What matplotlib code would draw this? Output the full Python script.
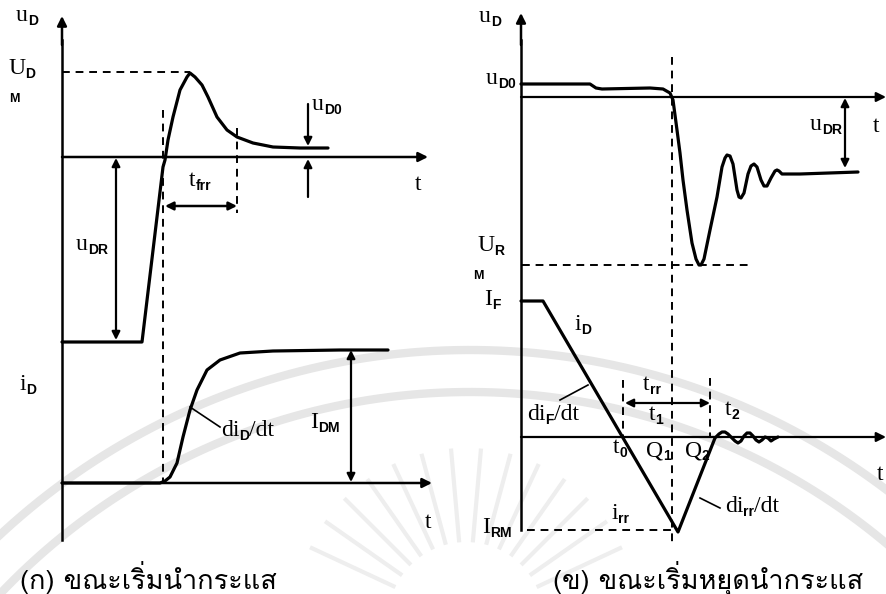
import matplotlib
matplotlib.use("Agg")
import matplotlib.pyplot as plt
import numpy as np

# waveform points (pixel space, y downwards)
ud_on_x = [62, 142, 163, 165, 168, 173, 180, 187, 190, 195, 202, 208, 217, 227, 237, 253, 273, 300, 328]
ud_on_y = [342, 342, 167, 160, 140, 117, 90, 77, 73, 77, 85, 97, 117, 130, 137, 143, 147, 148, 148]

id_on_x = [62, 155, 160, 165, 170, 177, 183, 190, 197, 207, 220, 240, 273, 340, 388]
id_on_y = [483, 483, 483, 481, 477, 463, 437, 410, 390, 370, 360, 353, 351, 350, 350]

ud_off_x = [521, 590, 596, 602, 650, 663, 670, 673, 677, 680, 683, 687, 692, 696, 699, 701, 704,
            710, 717, 722, 725, 727, 730, 733, 737, 739, 741, 744, 748, 751, 754, 757,
            761, 764, 767, 771, 775, 777, 779, 782, 800, 858]
ud_off_y = [84, 84, 88, 89, 88, 89, 93, 100, 130, 153, 180, 210, 243, 259, 265, 265, 259,
            230, 197, 167, 158, 155, 156, 164, 190, 197, 198, 193, 174, 166, 164, 167,
            180, 186, 186, 178, 171, 170, 171, 174, 174, 172]

id_off_x = [521, 543, 678, 715, 719, 722, 725, 728, 731, 735, 738, 741, 744, 747, 750, 753,
            756, 759, 762, 765, 768, 771, 774, 778]
id_off_y = [301, 301, 532, 438, 434, 432, 432, 434, 437, 441, 443, 441, 436, 433, 433, 436,
            440, 442, 440, 437, 438, 441, 439, 437]

cap_left = "(ก) ขณะเริ่มนำกระแส"
cap_right = "(ข) ขณะเริ่มหยุดนำกระแส"

SERIF = "Liberation Serif"
SUBF = "Liberation Sans"
THAI = ["Loma", "Noto Sans Thai Looped", "DejaVu Sans"]

fig = plt.figure(figsize=(8.86, 5.94), dpi=100)
ax = fig.add_axes([0, 0, 1, 1])
ax.set_xlim(0, 886)
ax.set_ylim(594, 0)
ax.axis("off")

# faint watermark (emblem behind the lower half)
GW = "#e6e6e6"
th = np.radians(np.linspace(20, 160, 300))
for r in [690, 648]:
    ax.plot(470 + r * np.cos(th), 1040 - r * np.sin(th), color=GW, lw=6, zorder=0)
for a in np.radians(np.linspace(25, 155, 14)):
    ax.plot([466 + 80 * np.cos(a), 466 + 170 * np.cos(a)],
            [620 - 80 * np.sin(a), 620 - 170 * np.sin(a)], color="#eeeeee", lw=3, zorder=0)

K = "black"
LW = 2.3


def arrow(x0, y0, x1, y1, style="-|>", lw=1.8, ms=14):
    ax.annotate("", xy=(x1, y1), xytext=(x0, y0),
                arrowprops=dict(arrowstyle=style, color=K, lw=lw, mutation_scale=ms,
                                shrinkA=0, shrinkB=0))


def dash(xs, ys):
    ax.plot(xs, ys, color=K, lw=1.4, dashes=(4, 3))


renderer = fig.canvas.get_renderer()


def lab(x, y, main, sub="", tail="", size=17, ssize=10, ha="center"):
    t1 = ax.text(0, 0, main, fontsize=size, family=SERIF, va="baseline")
    w1 = t1.get_window_extent(renderer).width
    t2 = ax.text(0, 0, sub, fontsize=ssize, family=SUBF, weight="bold", va="baseline")
    w2 = t2.get_window_extent(renderer).width if sub else 0
    t3 = ax.text(0, 0, tail, fontsize=size, family=SERIF, va="baseline")
    w3 = t3.get_window_extent(renderer).width if tail else 0
    total = w1 + w2 + w3
    x0 = x - total / 2 if ha == "center" else x
    t1.set_position((x0, y))
    t2.set_position((x0 + w1, y + 4))
    t3.set_position((x0 + w1 + w2, y))


# ---------- left panel: turn-on ----------
ax.plot([62, 62], [540, 40], color=K, lw=1.8)
arrow(62, 45, 62, 16)
arrow(62, 157, 428, 157)
arrow(62, 483, 432, 483)

ax.plot(ud_on_x, ud_on_y, color=K, lw=LW, solid_capstyle="round", solid_joinstyle="round")
ax.plot(id_on_x, id_on_y, color=K, lw=LW, solid_capstyle="round", solid_joinstyle="round")

dash([62, 190], [72, 72])
dash([163, 163], [110, 483])
dash([237, 237], [128, 213])
arrow(165, 206, 237, 206, style="<|-|>", lw=1.8, ms=12)
arrow(116, 158, 116, 340, style="<|-|>", lw=1.6, ms=12)
arrow(308, 104, 308, 146, lw=1.6, ms=12)
arrow(308, 197, 308, 159, lw=1.6, ms=12)
arrow(351, 350, 351, 482, style="<|-|>", lw=1.6, ms=12)
ax.plot([190, 220], [407, 427], color=K, lw=1.2)

lab(27, 21, "u", "D")
lab(8, 74, "U", "D", ha="left")
ax.text(9, 102, "M", fontsize=9, family=SUBF, weight="bold")
lab(200, 186, "t", "frr")
ax.text(418, 190, "t", fontsize=17, family=SERIF, ha="center")
lab(312, 110, "u", "D0", ha="left")
lab(92, 250, "u", "DR")
lab(28, 390, "i", "D")
lab(221, 436, "di", "D", "/dt", ha="left")
lab(325, 428, "I", "DM")
ax.text(428, 528, "t", fontsize=17, family=SERIF, ha="center")

# ---------- right panel: turn-off ----------
ax.plot([521, 521], [530, 40], color=K, lw=1.8)
arrow(521, 45, 521, 13)
arrow(521, 97, 886, 97, lw=1.6)
arrow(521, 437, 886, 437, lw=1.6)

ax.plot(ud_off_x, ud_off_y, color=K, lw=LW, solid_capstyle="round", solid_joinstyle="round")
ax.plot(id_off_x, id_off_y, color=K, lw=LW, solid_capstyle="round", solid_joinstyle="round")

dash([672, 672], [57, 545])
dash([522, 748], [265, 265])
dash([527, 678], [530, 530])
dash([623, 623], [380, 437])
dash([710, 710], [378, 437])
arrow(625, 403, 710, 403, style="<|-|>", lw=1.6, ms=12)
arrow(845, 98, 845, 168, style="<|-|>", lw=1.6, ms=12)
ax.plot([560, 588], [400, 385], color=K, lw=1.2)
ax.plot([700, 720], [498, 508], color=K, lw=1.2)

lab(490, 22, "u", "D")
lab(486, 84, "u", "D0", ha="left")
ax.text(876, 132, "t", fontsize=17, family=SERIF, ha="center")
lab(826, 130, "u", "DR")
lab(477, 251, "U", "R", ha="left")
ax.text(473, 279, "M", fontsize=9, family=SUBF, weight="bold")
lab(484, 305, "I", "F", ha="left")
lab(583, 330, "i", "D")
lab(652, 390, "t", "rr")
lab(656, 420, "t", "1")
lab(732, 415, "t", "2")
lab(553, 420, "di", "F", "/dt")
lab(620, 453, "t", "0")
lab(658, 456, "Q", "1")
lab(697, 456, "Q", "2")
ax.text(880, 480, "t", fontsize=17, family=SERIF, ha="center")
lab(620, 519, "i", "rr")
lab(752, 512, "di", "rr", "/dt")
lab(482, 533, "I", "RM", ha="left")

# captions
ax.text(20, 578, cap_left, fontsize=19.5, family=THAI, va="center", ha="left")
ax.text(553, 578, cap_right, fontsize=19.5, family=THAI, va="center", ha="left")

fig.savefig("out.png", dpi=100)
